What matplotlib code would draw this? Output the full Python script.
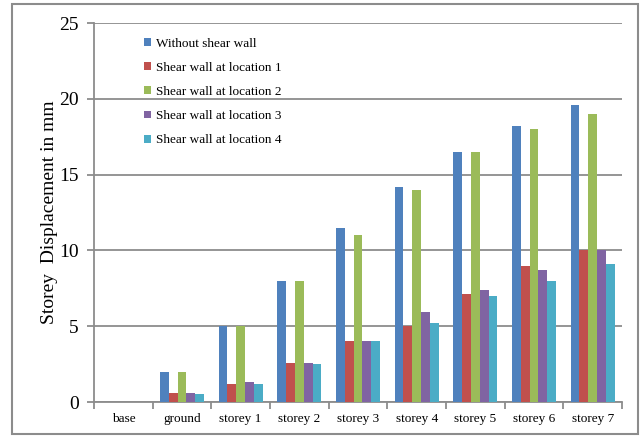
import matplotlib
matplotlib.use("Agg")
import matplotlib.pyplot as plt
from matplotlib.patches import Rectangle
import numpy as np

categories = ["base", "ground", "storey 1", "storey 2", "storey 3", "storey 4", "storey 5", "storey 6", "storey 7"]
series_names = ["Without shear wall", "Shear wall at location 1", "Shear wall at location 2",
                "Shear wall at location 3", "Shear wall at location 4"]
without_wall = [0, 2.0, 5.0, 8.0, 11.5, 14.2, 16.5, 18.2, 19.6]
location1 = [0, 0.6, 1.2, 2.6, 4.0, 5.0, 7.15, 9.0, 10.0]
location2 = [0, 2.0, 5.0, 8.0, 11.0, 14.0, 16.5, 18.0, 19.0]
location3 = [0, 0.6, 1.3, 2.6, 4.0, 5.95, 7.4, 8.7, 10.0]
location4 = [0, 0.5, 1.2, 2.5, 4.0, 5.2, 7.0, 8.0, 9.1]
y_ticks = [0, 5, 10, 15, 20, 25]
colors = ["#4F81BD", "#C0504D", "#9BBB59", "#8064A2", "#4BACC6"]

plt.rcParams['font.family'] = ['Liberation Serif', 'DejaVu Serif']

fig = plt.figure(figsize=(6.43, 4.36), dpi=100)
fig.patches.append(Rectangle((12/643, 2/436), 626/643, 430/436, transform=fig.transFigure,
                             fill=False, edgecolor="#8c8c8c", linewidth=1.5, zorder=0))
ax = fig.add_axes([94/643, 34/436, 528/643, 379/436])

series = [without_wall, location1, location2, location3, location4]
x = np.arange(len(categories))
w = 0.151
for i, (vals, name, c) in enumerate(zip(series, series_names, colors)):
    ax.bar(x + (i - 2) * w, vals, width=w, color=c, label=name, linewidth=0, zorder=3)

ax.set_xlim(-0.5, len(categories) - 0.5)
ax.set_ylim(0, 25)
ax.set_yticks(y_ticks)
ax.set_yticklabels([str(t) for t in y_ticks], fontsize=14)
ax.yaxis.grid(True, color="#8c8c8c", linewidth=1.3, zorder=0)
ax.set_axisbelow(True)
ax.tick_params(axis='y', length=5, width=1.3, color="#8c8c8c", pad=6)

ax.set_xticks(x)
ax.set_xticklabels(categories, fontsize=9.5)
ax.tick_params(axis='x', length=0, pad=8)
ax.set_xticks(np.arange(-0.5, len(categories)), minor=True)
ax.tick_params(axis='x', which='minor', length=5, width=1.3, color="#8c8c8c")

for s in ["top", "right"]:
    ax.spines[s].set_visible(False)
for s in ["left", "bottom"]:
    ax.spines[s].set_color("#8c8c8c")
    ax.spines[s].set_linewidth(1.3)

ax.set_ylabel("Storey  Displacement in mm", fontsize=14, labelpad=1)

leg = ax.legend(loc="upper left", bbox_to_anchor=(0.085, 0.975), frameon=False, fontsize=9.5,
                handlelength=0.55, handleheight=0.55, handletextpad=0.35, labelspacing=0.92,
                borderaxespad=0)

fig.savefig("out.png", dpi=100)
